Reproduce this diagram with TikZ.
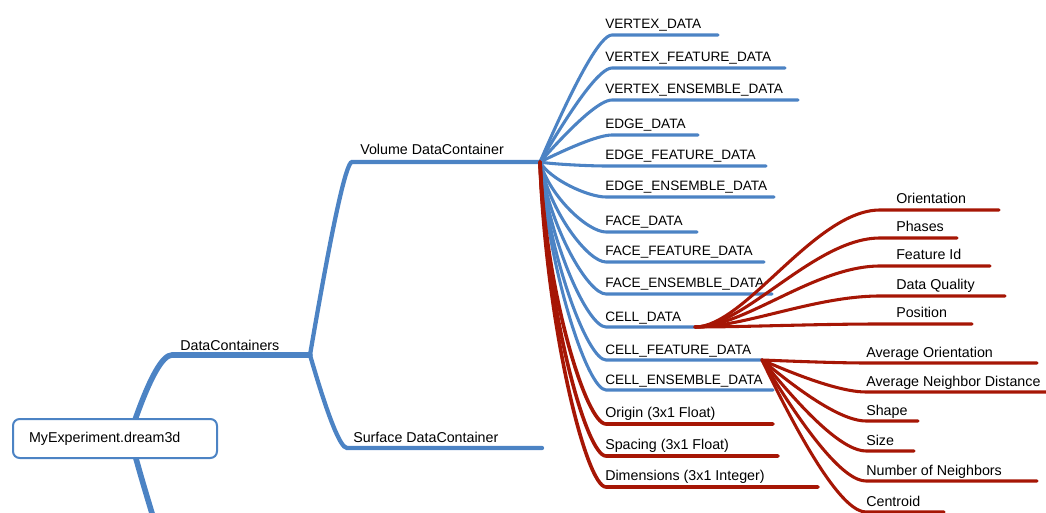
\documentclass[tikz,border=0pt]{standalone}
\usepackage{fontspec}
\setmainfont{Liberation Sans}
\usetikzlibrary{calc}
\definecolor{mapblue}{RGB}{76,131,196}
\definecolor{mapred}{RGB}{166,22,5}

\begin{document}
\begin{tikzpicture}[x=0.75pt,y=-0.75pt,
  txt/.style={font=\fontsize{10.7}{12}\selectfont,anchor=base west,inner sep=0pt},
  capstxt/.style={txt,font=\fontsize{10.2}{12}\selectfont},
  twig/.style={line width=2.3pt,line cap=round},
  limb/.style={line width=3.2pt,line cap=round,draw=mapblue},
  trunk/.style={line width=4.2pt,line cap=round,draw=mapblue},
  rootbox/.style={draw=mapblue,line width=1.5pt,rounded corners=5pt,fill=white,
    font=\fontsize{10.7}{12}\selectfont,align=left,text width=129pt,
    inner xsep=12pt,minimum height=29.25pt}]
  \useasboundingbox (0,0) rectangle (1046,513);

  % main branches
  \coordinate (root-up) at (135,420);
  \coordinate (root-dn) at (135,455);
  \coordinate (root-off) at (160,540);
  \coordinate (dc-s) at (172,355);
  \coordinate (dc-e) at (310,355);
  \coordinate (vol-s) at (352,162);
  \coordinate (vol-e) at (540,162);
  \coordinate (sur-s) at (347,448);
  \coordinate (sur-e) at (542,448);

  \node[txt] (dc) at (180,350) {DataContainers};
  \node[txt] (vol) at (360,155) {Volume DataContainer};
  \node[txt] (sur) at (353,442) {Surface DataContainer};

  \draw[trunk] (root-up) .. controls ($(root-up)!2/3!(158,355)$) and ($(dc-s)!2/3!(158,355)$) .. (dc-s) -- (dc-e);
  \draw[trunk] (root-dn) .. controls (142,480) .. (root-off);
  \draw[limb] (dc-e) .. controls ($(dc-e)!2/3!(343,162)$) and ($(vol-s)!2/3!(343,162)$) .. (vol-s) -- (vol-e);
  \draw[limb] (dc-e) .. controls ($(dc-e)!2/3!(337,448)$) and ($(sur-s)!2/3!(337,448)$) .. (sur-s) -- (sur-e);

  % volume arrays, upper
  \foreach \nm/\txt/\y/\xe in {vd/VERTEX\_DATA/35/718,
      vfd/VERTEX\_FEATURE\_DATA/68/785, ved/VERTEX\_ENSEMBLE\_DATA/100/798,
      ed/EDGE\_DATA/135/698} {
    \coordinate (\nm-s) at (612,\y);
    \coordinate (\nm-e) at (\xe,\y);
    \node[capstxt] (\nm) at (605,\y-6) {\txt};
    \draw[twig,mapblue] (vol-e) .. controls ($(vol-e)!2/3!(595,\y)$) and ($(\nm-s)!2/3!(595,\y)$) .. (\nm-s) -- (\nm-e);
  }
  % volume arrays, lower
  \foreach \nm/\txt/\y/\xe in {efd/EDGE\_FEATURE\_DATA/166/766,
      eed/EDGE\_ENSEMBLE\_DATA/197/774, fd/FACE\_DATA/232/697,
      ffd/FACE\_FEATURE\_DATA/262/764, fed/FACE\_ENSEMBLE\_DATA/294/772,
      cd/CELL\_DATA/327/695, cfd/CELL\_FEATURE\_DATA/360/762,
      ced/CELL\_ENSEMBLE\_DATA/390/773} {
    \coordinate (\nm-s) at (606,\y);
    \coordinate (\nm-e) at (\xe,\y);
    \node[capstxt] (\nm) at (605,\y-6) {\txt};
    \draw[twig,mapblue] (vol-e) .. controls (550,{(162+\y)/2}) and (588,\y) .. (\nm-s) -- (\nm-e);
  }
  \foreach \nm/\txt/\y/\xe in {org/Origin (3x1 Float)/424/773,
      spc/Spacing (3x1 Float)/456/778, dim/Dimensions (3x1 Integer)/487/818} {
    \coordinate (\nm-s) at (606,\y);
    \coordinate (\nm-e) at (\xe,\y);
    \node[txt] (\nm) at (605,\y-6.5) {\txt};
    \draw[twig,line width=2.7pt,mapred] (vol-e) .. controls (546,{(162+\y)/2}) and (586,\y) .. (\nm-s) -- (\nm-e);
  }

  % cell data
  \foreach \nm/\txt/\y/\xe in {ori/Orientation/210/999, pha/Phases/238/957,
      fid/Feature Id/266/990, dq/Data Quality/296/1005, pos/Position/324/972} {
    \coordinate (\nm-s) at (880,\y);
    \coordinate (\nm-e) at (\xe,\y);
    \node[txt] (\nm) at (896,\y-6) {\txt};
    \draw[twig,mapred] (cd-e) .. controls +(50,0) and +(-65,0) .. (\nm-s) -- (\nm-e);
  }

  % cell feature data
  \foreach \nm/\txt/\y/\xe in {ao/Average Orientation/363/1037,
      and/Average Neighbor Distance/392/1052, shp/Shape/421/918,
      sz/Size/451/914, non/Number of Neighbors/481/1037, cen/Centroid/512/944} {
    \coordinate (\nm-s) at (866,\y);
    \coordinate (\nm-e) at (\xe,\y);
    \node[txt] (\nm) at (866,\y-6) {\txt};
    \draw[twig,mapred] (cfd-e) .. controls ($(cfd-e)!2/3!(835,\y)$) and ($(\nm-s)!2/3!(835,\y)$) .. (\nm-s) -- (\nm-e);
  }

  \node[rootbox,anchor=north west] (root) at (12,418) {MyExperiment.dream3d};
\end{tikzpicture}
\end{document}
